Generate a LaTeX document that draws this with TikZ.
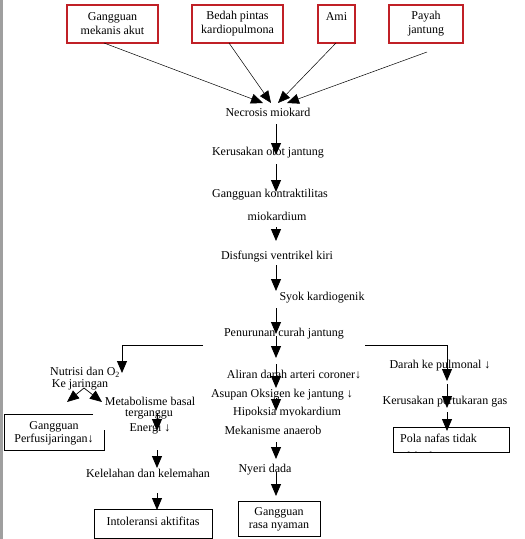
\documentclass[tikz,border=0pt]{standalone}
\usepackage{fontspec}
\setmainfont{Liberation Serif}
\usetikzlibrary{arrows.meta}
\definecolor{boxred}{RGB}{192,32,38}
\begin{document}
\begin{tikzpicture}[x=1pt,y=-1pt,
  txt/.style={inner sep=0pt, font=\fontsize{12}{13}\selectfont, align=center},
  txtw/.style={inner sep=0pt, font=\fontsize{12}{14}\selectfont, align=center},
  redbox/.style={draw=boxred, line width=1.1pt, inner sep=0pt},
  blkbox/.style={draw=black, line width=0.9pt, inner sep=0pt},
  arr/.style={-{Triangle[length=12pt,width=10pt]}, line width=0.8pt},
  tarr/.style={-{Triangle[length=12pt,width=10pt]}, line width=0.5pt}]
\useasboundingbox (0,0) rectangle (525,539);
\fill[white] (0,0) rectangle (525,539);
\fill[gray!75] (0,0) rectangle (2.5,539);

% top red boxes
\node[redbox, minimum width=91pt, minimum height=38pt] (b1) at (112.5,24) {};
\node[txtw] (t1) at (112.5,24) {Gangguan\\mekanis akut};
\node[redbox, minimum width=91pt, minimum height=38pt] (b2) at (237.5,24) {};
\node[txtw] (t2) at (237.5,24) {Bedah pintas\\kardiopulmona};
\node[redbox, minimum width=37pt, minimum height=38pt] (b3) at (336.5,24) {};
\node[txt] (t3) at (336.5,17) {Ami};
\node[redbox, minimum width=74pt, minimum height=38pt] (b4) at (426,24) {};
\node[txtw] (t4) at (426,24) {Payah\\jantung};

% central chain
\node[txt] (n1) at (268,112) {Necrosis miokard};
\node[txt] (n2) at (268,153) {Kerusakan otot jantung};
\node[txt] (n3) at (270,195) {Gangguan kontraktilitas};
\node[txt] (n3b) at (277,216) {miokardium};
\node[txt] (n4) at (277,257) {Disfungsi ventrikel kiri};
\node[txt] (n5) at (322,298) {Syok kardiogenik};
\node[txt] (n6) at (284,334) {Penurunan curah jantung};
\node[txt] (n7) at (294,375) {Aliran darah arteri coroner↓};
\node[txt] (n8) at (282,395) {Asupan Oksigen ke jantung ↓};
\begin{scope}
\clip (200,400) rectangle (360,415.5);
\node[txt] (n9) at (287,413) {Hipoksia myokardium};
\end{scope}
\node[txt] (n10) at (273,430) {Mekanisme anaerob};
\node[txt] (n11) at (265,470) {Nyeri dada};
\node[blkbox, minimum width=82pt, minimum height=35pt] (n12) at (279,518.5) {};
\node[txt] (n12t) at (279,519.5) {Gangguan\\rasa nyaman};

% right branch
\node[txt] (r1) at (440,366) {Darah ke pulmonal ↓};
\node[txt] (r2) at (445,402) {Kerusakan pertukaran gas};
\node[blkbox, minimum width=116pt, minimum height=25pt] (r3) at (451,439.5) {};
\begin{scope}
\clip (394,428) rectangle (508,451);
\node[txt, anchor=west] (r3t) at (400,438) {Pola nafas tidak};
\node[txt, anchor=west] (r3e) at (400,456.5) {efektif};
\end{scope}

% left branch
\node[txt] (l1) at (85,372) {Nutrisi dan O\textsubscript{2}};
\node[txt] (l2) at (80,385) {Ke jaringan};
\node[txt] (l3) at (54,433) {Gangguan\\Perfusijaringan↓};
\draw[line width=0.9pt] (93,414) -- (4,414) -- (4,450) -- (104,450) -- (104,430);
\node[txt] (m1) at (150,401) {Metabolisme basal};
\node[txt] (m2) at (149,414) {terganggu};
\node[txt] (m3) at (150,429) {Energi ↓};
\node[txt] (m4) at (148,473) {Kelelahan dan kelemahan};
\node[blkbox, minimum width=118pt, minimum height=29pt] (m5) at (153,523.5) {};
\node[txt] (m5t) at (153,521) {Intoleransi aktifitas};

% coordinates for connector ends
\coordinate (a1) at (104,43);
\coordinate (a2) at (229,43);
\coordinate (a3) at (336,43);
\coordinate (a4) at (427,52);
\coordinate (e1) at (263,103);
\coordinate (e2) at (271,103);
\coordinate (e3) at (278,103);
\coordinate (e4) at (287,103);

\draw[tarr] (a1) -- (e1);
\draw[tarr] (a2) -- (e2);
\draw[tarr] (a3) -- (e3);
\draw[tarr] (a4) -- (e4);

\coordinate (c1s) at (276,124); \coordinate (c1e) at (276,155);
\coordinate (c2s) at (276,164); \coordinate (c2e) at (276,192);
\coordinate (c3s) at (276,227); \coordinate (c3e) at (276,241);
\coordinate (c4s) at (276,265); \coordinate (c4e) at (276,291);
\coordinate (c5s) at (276,308); \coordinate (c5e) at (276,334);
\coordinate (c6s) at (276,336); \coordinate (c6e) at (276,358);
\coordinate (c7s) at (276,364); \coordinate (c7e) at (276,388);
\coordinate (c8s) at (276,398); \coordinate (c8e) at (276,411);
\coordinate (c9s) at (276,442); \coordinate (c9e) at (276,459);
\coordinate (c10s) at (276,472); \coordinate (c10e) at (276,496);
\draw[arr] (c1s) -- (c1e);
\draw[arr] (c2s) -- (c2e);
\draw[arr] (c3s) -- (c3e);
\draw[arr] (c4s) -- (c4e);
\draw[arr] (c5s) -- (c5e);
\draw[arr] (c6s) -- (c6e);
\draw[arr] (c7s) -- (c7e);
\draw[arr] (c8s) -- (c8e);
\draw[arr] (c9s) -- (c9e);
\draw[arr] (c10s) -- (c10e);

% right branch connectors
\coordinate (rs) at (365,345); \coordinate (rc) at (447,345); \coordinate (re) at (447,381);
\draw[arr] (rs) -- (rc) -- (re);
\coordinate (r2s) at (447,384); \coordinate (r2e) at (447,408);
\draw[arr] (r2s) -- (r2e);
\coordinate (r3s) at (447,412); \coordinate (r3e2) at (447,431);
\draw[arr] (r3s) -- (r3e2);

% left branch connectors
\coordinate (ls) at (203,345); \coordinate (lc) at (122,345); \coordinate (le) at (122,373);
\draw[arr] (ls) -- (lc) -- (le);
\coordinate (lf) at (84,388); \coordinate (lf1) at (67,402); \coordinate (lf2) at (102,402);
\draw[tarr, line width=0.7pt] (lf) -- (lf1);
\draw[tarr, line width=0.7pt] (lf) -- (lf2);
\coordinate (m1s) at (157,413); \coordinate (m1e) at (157,431);
\draw[arr] (m1s) -- (m1e);
\coordinate (m2s) at (157,450); \coordinate (m2e) at (157,468);
\draw[arr] (m2s) -- (m2e);
\coordinate (m3s) at (157,493); \coordinate (m3e) at (157,510);
\draw[arr] (m3s) -- (m3e);
\end{tikzpicture}
\end{document}
